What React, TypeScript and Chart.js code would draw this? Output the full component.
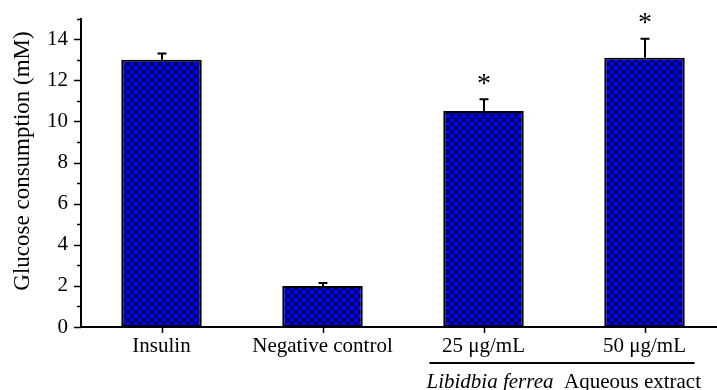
import React, { useEffect, useRef } from "react";
import { Chart, registerables } from "chart.js";

Chart.register(...registerables);

const categories = ["Insulin", "Negative control", "25 μg/mL", "50 μg/mL"];
const values = [13.0, 2.0, 10.5, 13.1];
const errors = [0.3, 0.14, 0.58, 0.92];
const significant = [false, false, true, true];
const yTicks = [0, 2, 4, 6, 8, 10, 12, 14];
const yTitle = "Glucose consumption (mM)";
const groupItalic = "Libidbia ferrea";
const groupNormal = "Aqueous extract";

const FONT = "'Liberation Serif', 'Times New Roman', serif";

function makePattern(): CanvasPattern | string {
  const T = 8;
  const c = document.createElement("canvas");
  c.width = T;
  c.height = T;
  const g = c.getContext("2d");
  if (!g) return "#0000ff";
  g.fillStyle = "#0000ff";
  g.fillRect(0, 0, T, T);
  g.strokeStyle = "#000000";
  g.lineWidth = 1.2;
  g.beginPath();
  for (let k = -1; k <= 1; k++) {
    const d = k * T;
    g.moveTo(d, 0);
    g.lineTo(d + T, T);
    g.moveTo(d + T, 0);
    g.lineTo(d, T);
  }
  g.stroke();
  const p = g.createPattern(c, "repeat");
  return p || "#0000ff";
}

const decorPlugin = {
  id: "decor",
  afterDraw(chart: any) {
    const ctx = chart.ctx;
    const x = chart.scales.x;
    const y = chart.scales.y;
    const area = chart.chartArea;
    ctx.save();
    ctx.strokeStyle = "#000";
    ctx.fillStyle = "#000";
    ctx.lineWidth = 1.5;
    for (let v = 0; v <= 15; v++) {
      const py = Math.round(y.getPixelForValue(v)) + 0.5;
      const len = v % 2 === 0 ? 7 : 4;
      ctx.beginPath();
      ctx.moveTo(area.left - len, py);
      ctx.lineTo(area.left, py);
      ctx.stroke();
    }
    categories.forEach((_, i) => {
      const px = Math.round(x.getPixelForValue(i)) + 0.5;
      ctx.beginPath();
      ctx.moveTo(px, area.bottom);
      ctx.lineTo(px, area.bottom + 6);
      ctx.stroke();
    });
    ctx.lineWidth = 2;
    values.forEach((v, i) => {
      const px = Math.round(x.getPixelForValue(i));
      const yTop = y.getPixelForValue(v);
      const yErr = y.getPixelForValue(v + errors[i]);
      ctx.beginPath();
      ctx.moveTo(px, yTop);
      ctx.lineTo(px, yErr);
      ctx.moveTo(px - 4.5, yErr);
      ctx.lineTo(px + 4.5, yErr);
      ctx.stroke();
      if (significant[i]) {
        ctx.font = `28px ${FONT}`;
        ctx.textAlign = "center";
        ctx.textBaseline = "middle";
        ctx.fillText("*", px, yErr - 15);
      }
    });
    ctx.save();
    ctx.translate(23, 161);
    ctx.rotate(-Math.PI / 2);
    ctx.font = `23px ${FONT}`;
    ctx.textAlign = "center";
    ctx.textBaseline = "middle";
    ctx.fillText(yTitle, 0, 0);
    ctx.restore();
    const x2 = x.getPixelForValue(2);
    const x3 = x.getPixelForValue(3);
    ctx.lineWidth = 2;
    ctx.beginPath();
    ctx.moveTo(x2 - 54, 363);
    ctx.lineTo(x3 + 50, 363);
    ctx.stroke();
    ctx.textAlign = "left";
    ctx.textBaseline = "alphabetic";
    ctx.font = `italic 21px ${FONT}`;
    const startX = x2 - 57;
    ctx.fillText(groupItalic, startX, 388);
    const w = ctx.measureText(groupItalic + "  ").width;
    ctx.font = `21px ${FONT}`;
    ctx.fillText(groupNormal, startX + w, 388);
    ctx.restore();
  },
};

export default function App() {
  const ref = useRef<HTMLCanvasElement | null>(null);
  useEffect(() => {
    if (!ref.current) return;
    document.body.style.margin = "0";
    document.body.style.overflow = "hidden";
    const pattern = makePattern();
    const chart = new Chart(ref.current, {
      type: "bar",
      data: {
        labels: categories,
        datasets: [
          {
            data: values,
            backgroundColor: pattern as any,
            borderColor: "#000",
            borderWidth: 2,
            borderSkipped: false,
            barPercentage: 0.5,
            categoryPercentage: 1,
          },
        ],
      },
      options: {
        responsive: false,
        animation: false,
        devicePixelRatio: 1,
        layout: { padding: { top: 17, left: 0, right: 0, bottom: 0 } },
        plugins: { legend: { display: false }, tooltip: { enabled: false } },
        scales: {
          x: {
            grid: { display: false, drawTicks: true, tickLength: 6 },
            border: { display: true, color: "#000", width: 2 },
            ticks: {
              color: "#000",
              font: { family: FONT, size: 21 },
              padding: 1,
              maxRotation: 0,
              autoSkip: false,
            },
            afterFit: (s: any) => {
              s.height = 63;
            },
          },
          y: {
            min: 0,
            max: 15,
            grid: { display: false, drawTicks: true, tickLength: 7 },
            border: { display: true, color: "#000", width: 2 },
            ticks: {
              stepSize: 1,
              autoSkip: false,
              color: "#000",
              font: { family: FONT, size: 21 },
              padding: 6,
              callback: (v: any) => (yTicks.includes(Number(v)) ? String(v) : ""),
            },
            afterFit: (s: any) => {
              s.width = 81;
            },
          },
        },
      },
      plugins: [decorPlugin],
    });
    return () => chart.destroy();
  }, []);
  return (
    <div
      style={{
        position: "fixed",
        left: 0,
        top: 0,
        width: 717,
        height: 390,
        overflow: "hidden",
        background: "#fff",
      }}
    >
      <canvas ref={ref} width={725} height={390} style={{ width: 725, height: 390 }} />
    </div>
  );
}
